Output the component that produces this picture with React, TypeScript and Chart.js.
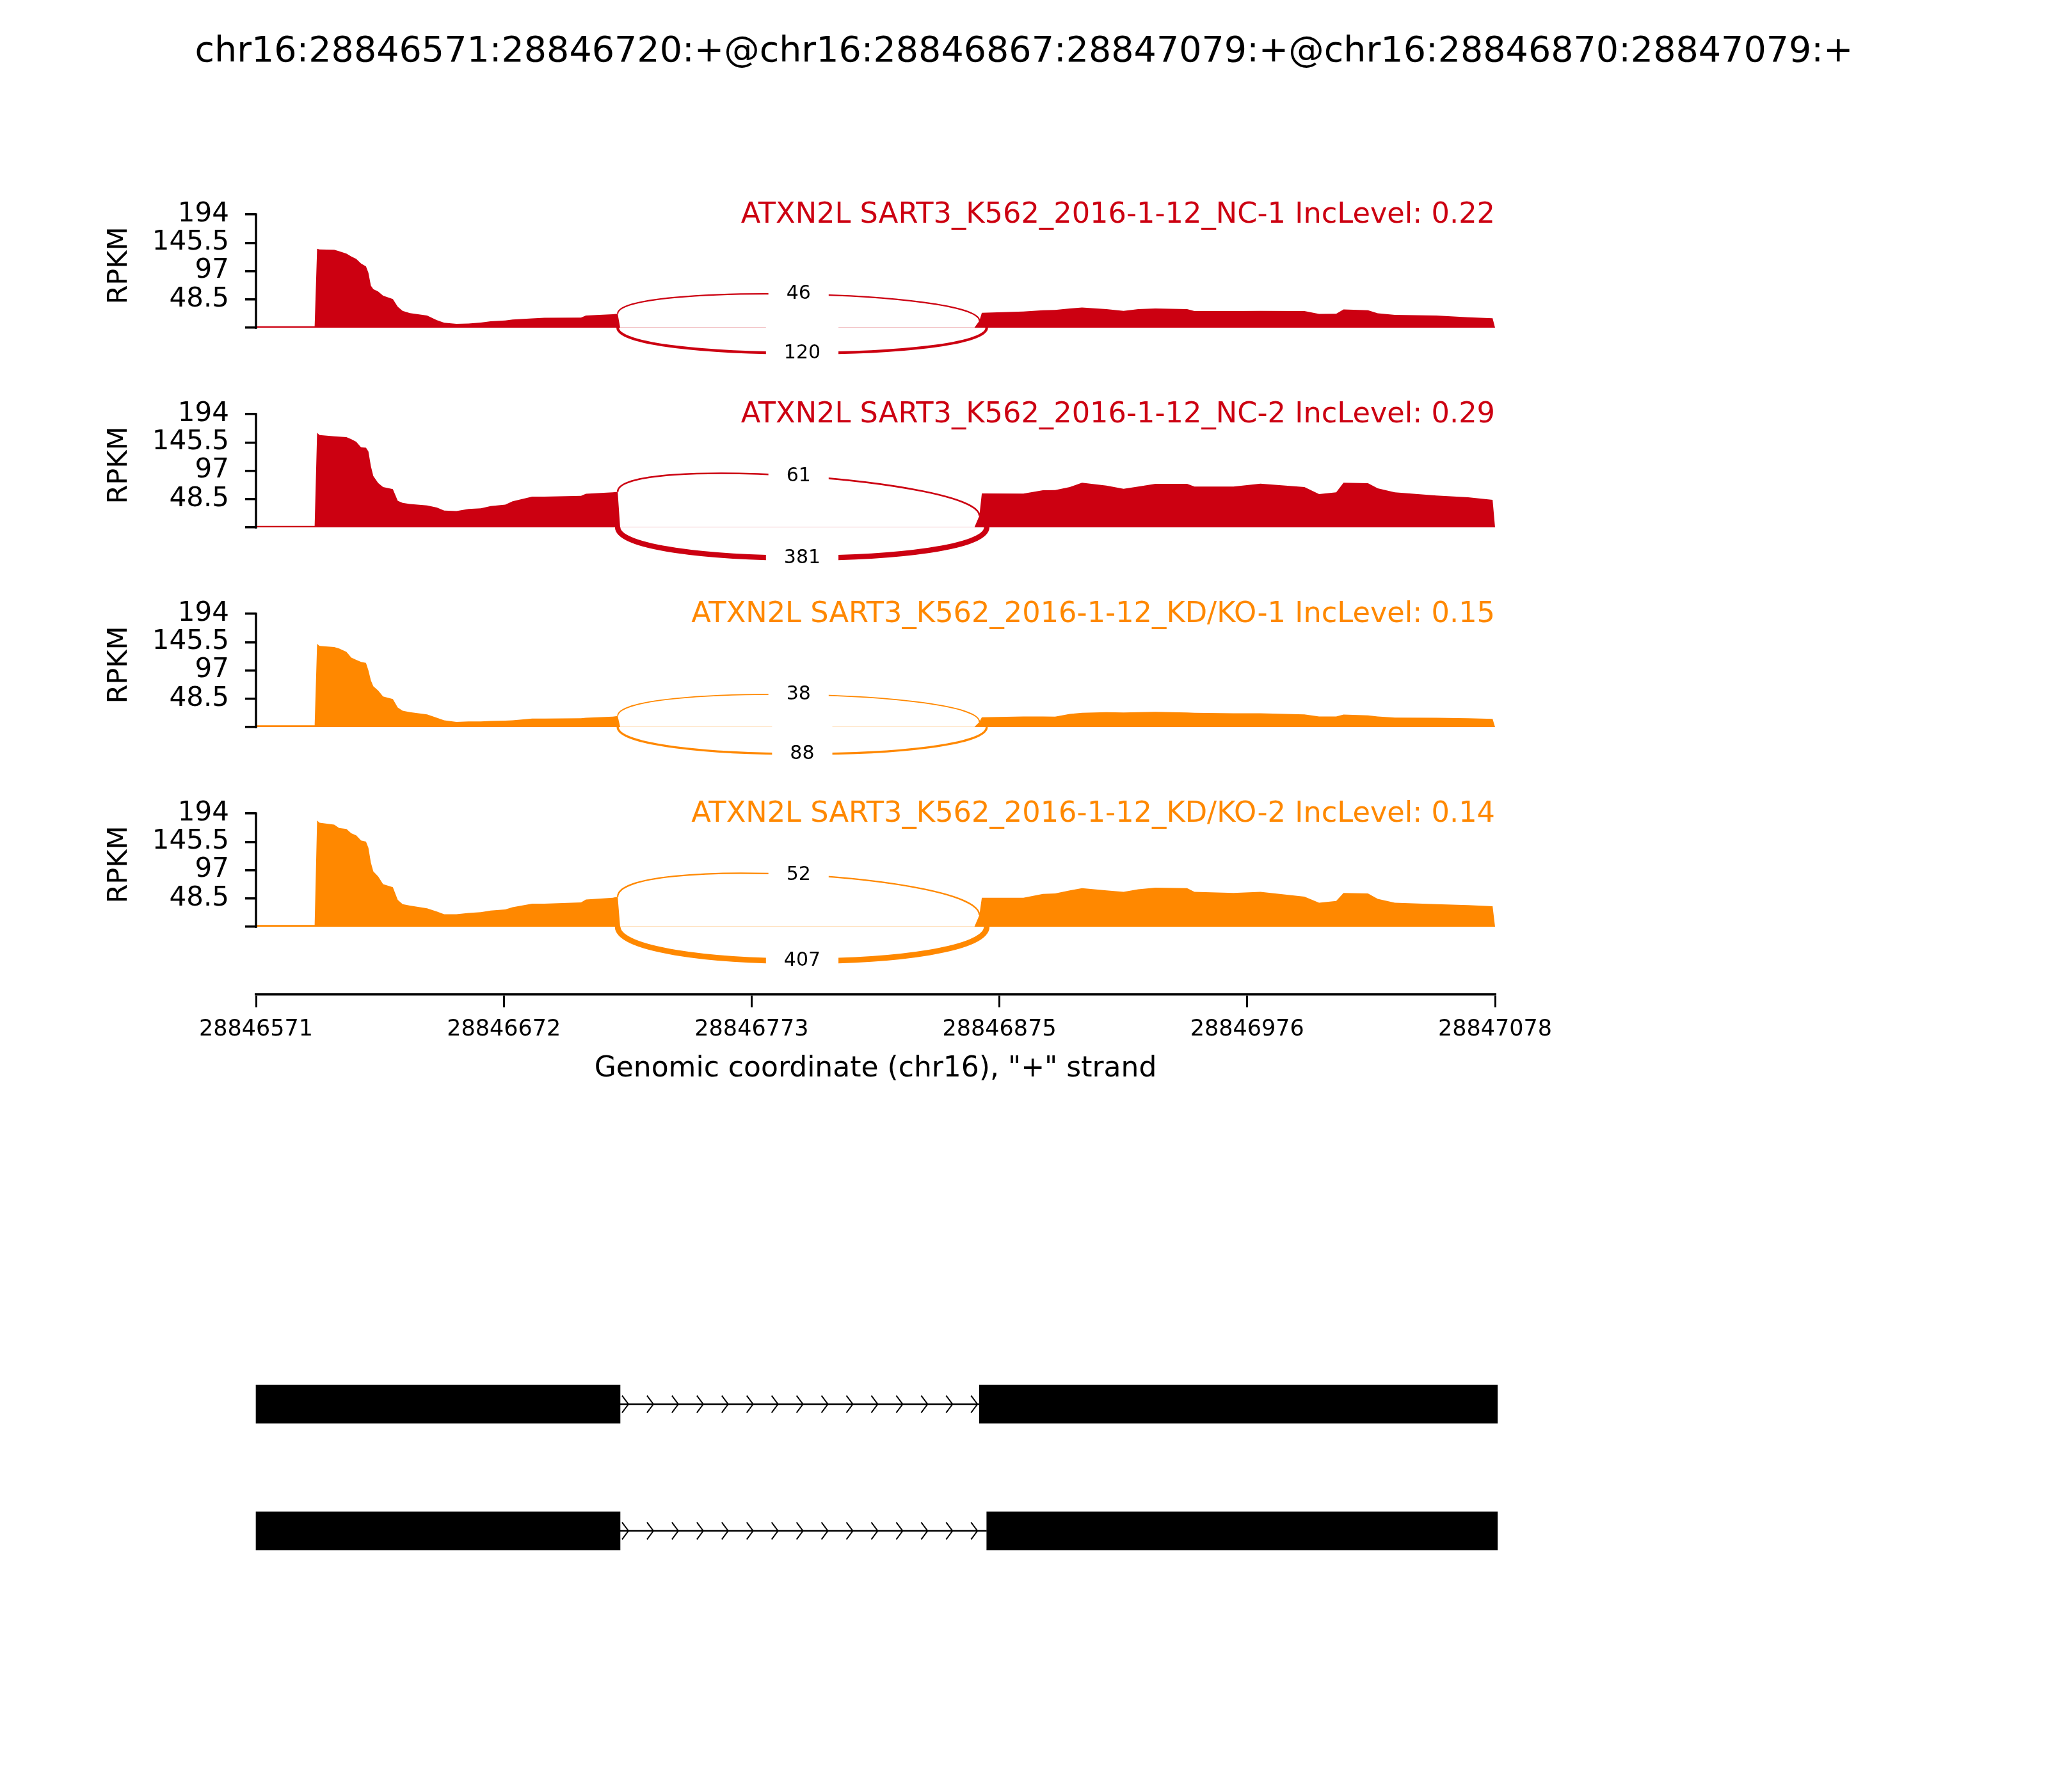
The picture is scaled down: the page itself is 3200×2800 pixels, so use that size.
import React, { useEffect, useRef } from 'react';
import { Chart, registerables } from 'chart.js';

Chart.register(...registerables);
Chart.defaults.font.family = '"DejaVu Sans"';

// ---------------- data ----------------
const REGION_START = 28846571;
const REGION_END = 28847078;
const TITLE = 'chr16:28846571:28846720:+@chr16:28846867:28847079:+@chr16:28846870:28847079:+';
const X_LABEL = 'Genomic coordinate (chr16), "+" strand';
const Y_LABEL = 'RPKM';
const GENE = 'ATXN2L';
const xTickLabels = ['28846571', '28846672', '28846773', '28846875', '28846976', '28847078'];
const yTickValues = [0, 48.5, 97, 145.5, 194];
const Y_MAX = 194;
const Y_MIN = -116;

// bp offsets from REGION_START where coverage was read
const coverageOffsets = [
  0, 24, 25, 26, 32, 34, 37, 39, 41, 43,
  45, 46, 47, 48, 50, 52, 56, 58, 60, 63,
  70, 74, 77, 82, 87, 92, 96, 102, 105, 113,
  118, 133, 135, 146, 148, 149, 293, 294, 296, 297,
  314, 322, 327, 333, 338, 348, 355, 361, 368, 381,
  384, 400, 411, 429, 435, 442, 445, 455, 459, 466,
  483, 496, 506, 507,
];
const nc1Coverage = [
  2.5, 2.5, 135, 134, 133.5, 131, 127, 122, 118, 110,
  105, 94, 72, 66, 62, 55, 49, 36, 29, 25,
  21, 13, 8.5, 6.6, 7.3, 9, 11, 12.5, 14, 16,
  17, 17.5, 21, 23, 24, 0.4, 0.4, 0.5, 12, 25.5,
  27.7, 30, 30.5, 33, 34.7, 32, 29, 32, 33, 32,
  28.5, 28.5, 29, 28.5, 23.7, 24, 31.4, 30, 24.8, 22,
  21, 18, 16.4, 0,
];
const nc2Coverage = [
  2.5, 2.5, 162, 158, 156, 155.5, 154.7, 151, 146.7, 137,
  136.5, 130, 105, 88, 76, 69, 65.5, 45.5, 42, 40,
  37.5, 34, 29, 28, 31.7, 32.8, 36.4, 39, 44.8, 52.8,
  52.8, 54, 57.5, 60, 61, 0.4, 0.4, 0.5, 20, 58.2,
  58, 63.7, 64, 69, 76.4, 71.7, 66, 70, 74.6, 74.6,
  70, 70, 75, 69, 57, 60, 76.4, 75.7, 67, 60,
  54.6, 51.7, 47.3, 0,
];
const kd1Coverage = [
  3, 3, 142.5, 139, 137, 134.5, 128.7, 119, 115, 111.6,
  110, 97, 80, 70, 62.5, 52.4, 48, 33.5, 28, 25.5,
  21.8, 16, 11.6, 9, 9.8, 9.8, 10.5, 11, 11.6, 14.5,
  14.5, 15.3, 16, 17.8, 18.9, 0.4, 0.4, 0.5, 9, 16.7,
  18.2, 18.2, 17.8, 22.5, 24.4, 25.5, 25, 25.5, 26.2, 25,
  24.4, 23.6, 23.6, 21.8, 18.2, 18.2, 21.5, 20, 18.2, 16.4,
  16, 15.3, 14.2, 0,
];
const kd2Coverage = [
  3, 3, 182, 178, 174.8, 169, 167.5, 160, 156.6, 147.6,
  145.8, 135, 110, 95, 86, 73, 67.8, 46, 38.8, 36.3,
  31.5, 26, 21.4, 21.4, 23.6, 25, 27.9, 29.7, 33.4, 39.5,
  39.5, 41.7, 46.8, 49.7, 51.5, 0.4, 0.4, 0.5, 20, 49.7,
  49.7, 56.2, 57, 62.4, 66, 62.4, 59.8, 64.2, 67, 66,
  59.8, 58, 59.8, 51.5, 41.3, 44.2, 58, 57, 47.9, 41.3,
  38.8, 37, 35.2, 0,
];

const sampleNames = [
  'SART3_K562_2016-1-12_NC-1',
  'SART3_K562_2016-1-12_NC-2',
  'SART3_K562_2016-1-12_KD/KO-1',
  'SART3_K562_2016-1-12_KD/KO-2',
];
const incLevels = [0.22, 0.29, 0.15, 0.14];
const sampleColors = ['#CC0011', '#CC0011', '#FF8800', '#FF8800'];

const junctionLefts = [28846720, 28846720];
const junctionRights = [28846867, 28846870];
const nc1Junctions = [46, 120];
const nc2Junctions = [61, 381];
const kd1Junctions = [38, 88];
const kd2Junctions = [52, 407];

const isoformLabels = ['isoform 1', 'isoform 2'];
const exon1Ranges = [[28846571, 28846720], [28846571, 28846720]];
const exon2Ranges = [[28846867, 28847079], [28846870, 28847079]];

const samples = [
  { name: sampleNames[0], inc: incLevels[0], color: sampleColors[0], cov: nc1Coverage, jxn: nc1Junctions },
  { name: sampleNames[1], inc: incLevels[1], color: sampleColors[1], cov: nc2Coverage, jxn: nc2Junctions },
  { name: sampleNames[2], inc: incLevels[2], color: sampleColors[2], cov: kd1Coverage, jxn: kd1Junctions },
  { name: sampleNames[3], inc: incLevels[3], color: sampleColors[3], cov: kd2Coverage, jxn: kd2Junctions },
];

// ---------------- layout / style ----------------
const W = 3200;
const H = 2800;
const PLOT_LEFT = 400;
const PLOT_RIGHT = 2336;
const PANEL_TOP0 = 335;
const PANEL_STEP = 312;
const AXES_H = 283;
const FONT = '"DejaVu Sans"';
const ARC_UP_FRAC = 0.39;
const ARC_DOWN_FRAC = 0.43;
const LABEL_PAD = 28;

function covAt(cov: number[], g: number) {
  const o = g - REGION_START;
  for (let i = 0; i < coverageOffsets.length - 1; i++) {
    const a = coverageOffsets[i], b = coverageOffsets[i + 1];
    if (o >= a && o <= b) {
      const t = b === a ? 0 : (o - a) / (b - a);
      return cov[i] + t * (cov[i + 1] - cov[i]);
    }
  }
  return 0;
}

function bez(p: number[][], t: number) {
  const u = 1 - t;
  const c = [u * u * u, 3 * u * u * t, 3 * u * t * t, t * t * t];
  return [0, 1].map((k) => c[0] * p[0][k] + c[1] * p[1][k] + c[2] * p[2][k] + c[3] * p[3][k]);
}

function panelPlugin(k: number, isFirst: boolean) {
  const s = samples[k];
  return {
    id: 'sashimi' + k,
    afterDatasetsDraw(chart: any) {
      const { ctx } = chart;
      const xs = chart.scales.x, ys = chart.scales.y;
      const peak = Math.max(...s.cov);
      const labels: any[] = [];
      junctionLefts.forEach((left, j) => {
        const ss1 = left - 1;
        const ss2 = junctionRights[j];
        const ld = covAt(s.cov, ss1);
        const rd = covAt(s.cov, ss2);
        const hu = ARC_UP_FRAC * peak;
        const hd = ARC_DOWN_FRAC * peak;
        const pts = j % 2 === 0
          ? [[ss1, ld], [ss1, ld + hu], [ss2, rd + hu], [ss2, rd]]
          : [[ss1, 0], [ss1, -hd], [ss2, -hd], [ss2, 0]];
        const px = pts.map((p) => [xs.getPixelForValue(p[0]), ys.getPixelForValue(p[1])]);
        const count = s.jxn[j];
        ctx.save();
        ctx.strokeStyle = s.color;
        ctx.lineWidth = Math.max(1, 0.5 * Math.sqrt(count) - 1.3);
        ctx.beginPath();
        ctx.moveTo(px[0][0], px[0][1]);
        ctx.bezierCurveTo(px[1][0], px[1][1], px[2][0], px[2][1], px[3][0], px[3][1]);
        ctx.stroke();
        ctx.restore();
        const mid = bez(pts, 0.5);
        labels.push({ x: xs.getPixelForValue(mid[0]), y: ys.getPixelForValue(mid[1]), text: String(count) });
      });
      ctx.save();
      ctx.font = `30px ${FONT}`;
      ctx.textAlign = 'center';
      ctx.textBaseline = 'middle';
      labels.forEach((l) => {
        const tw = ctx.measureText(l.text).width;
        const th = 35;
        ctx.fillStyle = '#ffffff';
        ctx.fillRect(l.x - tw / 2 - LABEL_PAD, l.y - th / 2 - LABEL_PAD, tw + 2 * LABEL_PAD, th + 2 * LABEL_PAD);
        ctx.fillStyle = '#000000';
        ctx.fillText(l.text, l.x, l.y);
      });
      ctx.restore();
    },
    afterDraw(chart: any) {
      const { ctx, chartArea } = chart;
      const ys = chart.scales.y;
      const yTop = ys.getPixelForValue(Y_MAX);
      const yZero = ys.getPixelForValue(0);
      ctx.save();
      // bounded y spine
      ctx.strokeStyle = '#000';
      ctx.lineWidth = 3.5;
      ctx.beginPath();
      ctx.moveTo(chartArea.left, yZero + 1.75);
      ctx.lineTo(chartArea.left, yTop - 1.75);
      ctx.stroke();
      // sample label
      ctx.fillStyle = s.color;
      ctx.font = `44.7px ${FONT}`;
      ctx.textAlign = 'right';
      ctx.textBaseline = 'middle';
      ctx.fillText(`${GENE} ${s.name} IncLevel: ${s.inc.toFixed(2)}`, chartArea.right, yTop + 1);
      // y label
      ctx.fillStyle = '#000';
      ctx.font = `43px ${FONT}`;
      ctx.textAlign = 'center';
      ctx.translate(187, yTop + 80);
      ctx.rotate(-Math.PI / 2);
      ctx.fillText(Y_LABEL, 0, 0);
      ctx.restore();
      if (isFirst) {
        ctx.save();
        ctx.fillStyle = '#000';
        ctx.font = `55.5px ${FONT}`;
        ctx.textAlign = 'center';
        ctx.textBaseline = 'middle';
        ctx.fillText(TITLE, W / 2, 82);
        ctx.restore();
      }
    },
  };
}

function PanelChart({ k }: { k: number }) {
  const ref = useRef<HTMLCanvasElement>(null);
  const isFirst = k === 0;
  const isLast = k === samples.length - 1;
  const areaTop = PANEL_TOP0 + k * PANEL_STEP;
  const headroom = isFirst ? areaTop : 110;
  const footer = isLast ? 160 : 80;
  const canvasTop = areaTop - headroom;
  const height = headroom + AXES_H + footer;

  useEffect(() => {
    const s = samples[k];
    const span = REGION_END - REGION_START;
    const chart = new Chart(ref.current as HTMLCanvasElement, {
      type: 'line',
      data: {
        datasets: [
          {
            data: coverageOffsets.map((o, i) => ({ x: REGION_START + o, y: s.cov[i] })),
            fill: 'origin',
            backgroundColor: s.color,
            borderColor: 'rgba(0,0,0,0)',
            borderWidth: 1,
            pointRadius: 0,
            tension: 0,
          },
        ],
      },
      options: {
        animation: false,
        responsive: false,
        devicePixelRatio: 1,
        events: [],
        layout: { padding: { top: headroom, left: 0, right: W - PLOT_RIGHT, bottom: 0 } },
        plugins: { legend: { display: false }, tooltip: { enabled: false }, title: { display: false } },
        scales: {
          x: {
            type: 'linear',
            min: REGION_START,
            max: REGION_END,
            display: true,
            afterBuildTicks: (sc: any) => {
              sc.ticks = xTickLabels.map((_, i) => ({ value: REGION_START + (i * span) / (xTickLabels.length - 1) }));
            },
            afterFit: (sc: any) => {
              sc.height = footer;
            },
            ticks: {
              display: isLast,
              autoSkip: false,
              maxRotation: 0,
              minRotation: 0,
              padding: 14,
              color: '#000',
              font: { size: 35 },
              callback: (_v: any, i: number) => xTickLabels[i],
            },
            grid: { display: isLast, drawOnChartArea: false, drawTicks: true, tickLength: 20, lineWidth: 3, color: '#000' },
            border: { display: isLast, width: 3.5, color: '#000' },
            title: { display: isLast, text: X_LABEL, color: '#000', font: { size: 44 }, padding: { top: 0, bottom: 17 } },
          },
          y: {
            type: 'linear',
            min: Y_MIN,
            max: Y_MAX,
            position: 'left',
            afterBuildTicks: (sc: any) => {
              sc.ticks = yTickValues.map((v) => ({ value: v }));
            },
            afterFit: (sc: any) => {
              sc.width = PLOT_LEFT;
            },
            ticks: {
              autoSkip: false,
              padding: 25,
              color: '#000',
              font: { size: 42 },
              callback: (v: any) => (v === 0 ? '' : String(v)),
            },
            grid: { display: true, drawOnChartArea: false, drawTicks: true, tickLength: 17, lineWidth: 3.5, color: '#000' },
            border: { display: false },
          },
        },
      } as any,
      plugins: [panelPlugin(k, isFirst)],
    });
    return () => chart.destroy();
  }, []);

  return (
    <canvas
      ref={ref}
      width={W}
      height={height}
      style={{ position: 'absolute', left: 0, top: canvasTop, width: W, height }}
    />
  );
}

const CHEVRON_START_BP = 3.4;
const CHEVRON_STEP_BP = 10.2;
const CHEVRON_HALF = 13.3;
const CHEVRON_BACK = 10;

const intronPlugin = {
  id: 'introns',
  beforeDatasetsDraw(chart: any) {
    const { ctx } = chart;
    const xs = chart.scales.x, ys = chart.scales.y;
    isoformLabels.forEach((_, r) => {
      const gStart = exon1Ranges[r][1];
      const gEnd = exon2Ranges[r][0];
      const cy = ys.getPixelForValue(r);
      ctx.save();
      ctx.strokeStyle = '#000';
      ctx.lineWidth = 2.5;
      ctx.beginPath();
      ctx.moveTo(xs.getPixelForValue(gStart), cy);
      ctx.lineTo(xs.getPixelForValue(gEnd), cy);
      ctx.stroke();
      ctx.lineWidth = 2;
      for (let g = gStart + CHEVRON_START_BP; g <= gEnd - 0.5; g += CHEVRON_STEP_BP) {
        const tx = xs.getPixelForValue(g);
        ctx.beginPath();
        ctx.moveTo(tx - CHEVRON_BACK, cy - CHEVRON_HALF);
        ctx.lineTo(tx, cy);
        ctx.lineTo(tx - CHEVRON_BACK, cy + CHEVRON_HALF);
        ctx.stroke();
      }
      ctx.restore();
    });
  },
};

function GeneChart() {
  const ref = useRef<HTMLCanvasElement>(null);
  const top = 2000;
  const height = 600;
  useEffect(() => {
    const chart = new Chart(ref.current as HTMLCanvasElement, {
      type: 'bar',
      data: {
        labels: isoformLabels,
        datasets: [
          { data: exon1Ranges, backgroundColor: '#000', borderWidth: 0, barThickness: 60, grouped: false, clip: false },
          { data: exon2Ranges, backgroundColor: '#000', borderWidth: 0, barThickness: 60, grouped: false, clip: false },
        ],
      } as any,
      options: {
        indexAxis: 'y',
        animation: false,
        responsive: false,
        devicePixelRatio: 1,
        events: [],
        layout: { padding: { top: 2095 - top, bottom: top + height - 2491, left: PLOT_LEFT, right: W - PLOT_RIGHT } },
        plugins: { legend: { display: false }, tooltip: { enabled: false } },
        scales: {
          x: { type: 'linear', min: REGION_START, max: REGION_END, display: false },
          y: { type: 'category', display: false, offset: true },
        },
      } as any,
      plugins: [intronPlugin],
    });
    return () => chart.destroy();
  }, []);
  return (
    <canvas ref={ref} width={W} height={height} style={{ position: 'absolute', left: 0, top, width: W, height }} />
  );
}

export default function App() {
  return (
    <div style={{ position: 'absolute', left: 0, top: 0, width: W, height: H, background: '#fff', overflow: 'hidden' }}>
      {samples.map((_, k) => (
        <PanelChart key={k} k={k} />
      ))}
      <GeneChart />
    </div>
  );
}
